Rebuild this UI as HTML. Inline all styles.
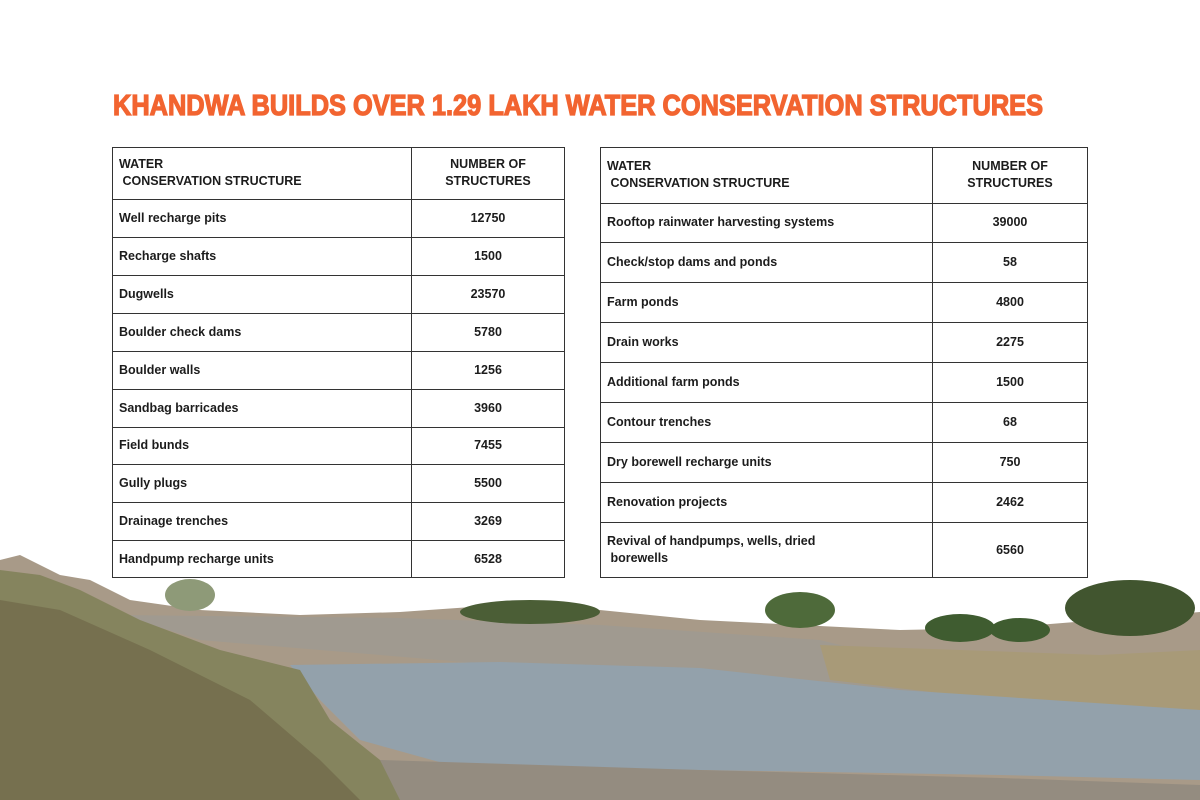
<!DOCTYPE html>
<html><head><style>
*{margin:0;padding:0;box-sizing:border-box}
body{width:1200px;height:800px;background:#fff;position:relative;overflow:hidden;font-family:"Liberation Sans",sans-serif}
.c{position:absolute;font-size:12.5px;font-weight:bold;color:#1c1c1c;line-height:17px;display:flex;align-items:center}
.h{position:absolute;height:1px;background:#333}
.v{position:absolute;width:1px;background:#333}
</style></head><body>
<svg width="1200" height="800" style="position:absolute;left:0;top:0">
<path d="M0,560 L20,555 L60,575 L90,580 L130,600 L200,610 L300,615 L400,612 L500,605 L600,610 L700,620 L800,625 L900,630 L1000,628 L1100,620 L1200,612 L1200,800 L0,800Z" fill="#a89a88"/>
<path d="M120,615 L400,618 L600,625 L820,640 L900,660 L1000,665 L1200,660 L1200,700 L850,690 L500,665 L200,640Z" fill="#a09a90"/>
<path d="M820,645 L1100,655 L1200,650 L1200,710 L1000,700 L830,680Z" fill="#a89a78"/>
<path d="M290,665 L500,662 L700,668 L900,690 L1050,700 L1200,710 L1200,780 L1000,775 L700,770 L450,765 L360,740 L320,700Z" fill="#93a1ab"/>
<path d="M0,570 L40,575 L80,590 L140,620 L220,650 L300,670 L330,720 L380,760 L450,790 L460,800 L0,800Z" fill="#85845e"/>
<path d="M0,600 L60,610 L150,650 L250,700 L320,760 L360,800 L0,800Z" fill="#76704f"/>
<path d="M380,760 L700,770 L1000,778 L1200,785 L1200,800 L400,800Z" fill="#948c80"/>
<ellipse cx="530" cy="612" rx="70" ry="12" fill="#4b5e36"/>
<ellipse cx="800" cy="610" rx="35" ry="18" fill="#4e6a3a"/>
<ellipse cx="960" cy="628" rx="35" ry="14" fill="#3f5c30"/>
<ellipse cx="1020" cy="630" rx="30" ry="12" fill="#3f5c30"/>
<ellipse cx="1130" cy="608" rx="65" ry="28" fill="#41552f"/>
<ellipse cx="190" cy="595" rx="25" ry="16" fill="#8e9a78"/>
<text x="578" y="115" text-anchor="middle" textLength="930" lengthAdjust="spacingAndGlyphs" font-family="Liberation Sans, sans-serif" font-weight="bold" font-size="29" fill="#f26430" stroke="#f26430" stroke-width="1.3">KHANDWA BUILDS OVER 1.29 LAKH WATER CONSERVATION STRUCTURES</text>
</svg>

<div style="position:absolute;left:112px;top:147px;width:453px;height:431px;background:#fff;border:1px solid #333"></div>
<div class="v" style="left:411px;top:147px;height:431px"></div>
<div style="position:absolute;left:600px;top:147px;width:488px;height:431px;background:#fff;border:1px solid #333"></div>
<div class="v" style="left:932px;top:147px;height:431px"></div>

<div id="L"></div>
<script>
function tbl(x0,xs,x1,ys,rows,head){
 let h='';
 for(let i=1;i<ys.length-1;i++)h+=`<div class="h" style="left:${x0}px;width:${x1-x0}px;top:${ys[i]}px"></div>`;
 const all=[head].concat(rows);
 all.forEach((r,i)=>{
  const t=ys[i],b=ys[i+1];
  h+=`<div class="c" style="left:${x0+7}px;top:${t}px;height:${b-t}px;width:${xs-x0-10}px">${r[0]}</div>`;
  h+=`<div class="c" style="left:${xs}px;top:${t}px;height:${b-t}px;width:${x1-xs}px;justify-content:center;text-align:center">${r[1]}</div>`;
 });
 document.getElementById('L').insertAdjacentHTML('beforeend',h);
}
tbl(112,411,565,[147,199,237,275,313,351,389,427,464,502,540,578],
[["Well recharge pits","12750"],["Recharge shafts","1500"],["Dugwells","23570"],["Boulder check dams","5780"],["Boulder walls","1256"],["Sandbag barricades","3960"],["Field bunds","7455"],["Gully plugs","5500"],["Drainage trenches","3269"],["Handpump recharge units","6528"]],
["WATER<br>&nbsp;CONSERVATION STRUCTURE","NUMBER OF<br>STRUCTURES"]);
tbl(600,932,1088,[147,203,242,282,322,362,402,442,482,522,578],
[["Rooftop rainwater harvesting systems","39000"],["Check/stop dams and ponds","58"],["Farm ponds","4800"],["Drain works","2275"],["Additional farm ponds","1500"],["Contour trenches","68"],["Dry borewell recharge units","750"],["Renovation projects","2462"],["Revival of handpumps, wells, dried<br>&nbsp;borewells","6560"]],
["WATER<br>&nbsp;CONSERVATION STRUCTURE","NUMBER OF<br>STRUCTURES"]);
</script>
</body></html>
